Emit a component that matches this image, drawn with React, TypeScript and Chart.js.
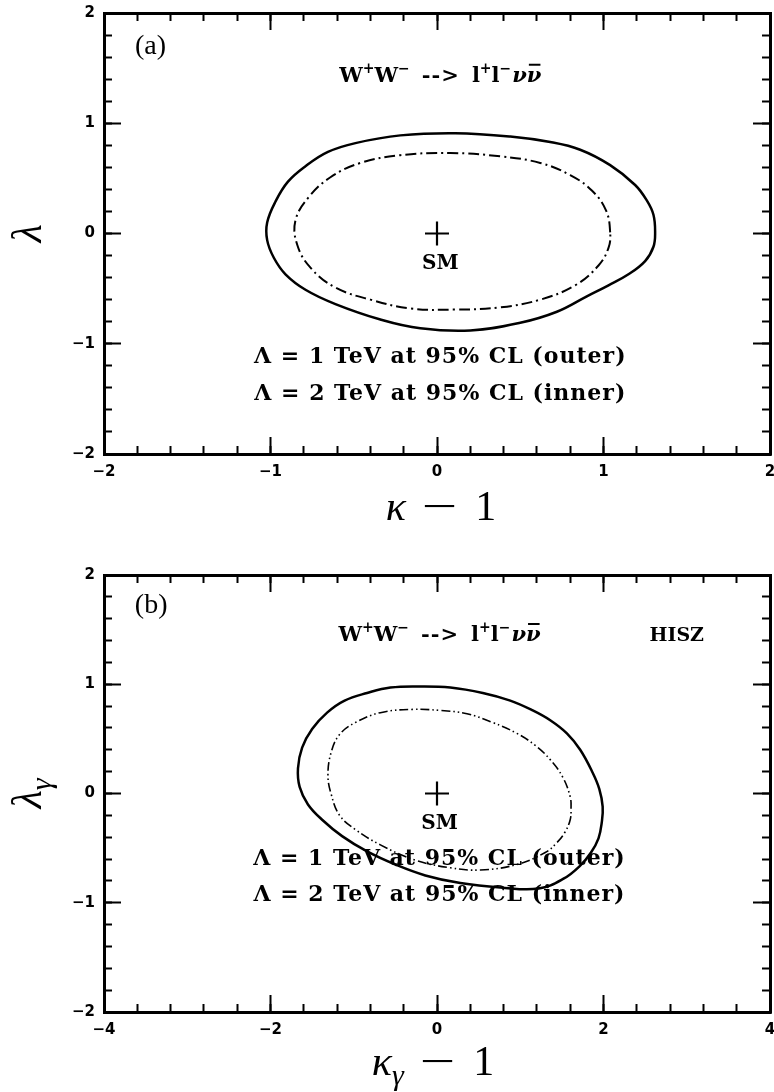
import React, { useEffect, useRef } from "react";
import { Chart, registerables } from "chart.js";

Chart.register(...registerables);

// ---------- panel (a): kappa - 1 vs lambda ----------
const outerAX = [1.31, 1.30, 1.26, 1.19, 1.04, 0.86, 0.68, 0.44, 0.11, -0.22, -0.49, -0.655, -0.79, -0.895, -0.97, -1.02, -1.02, -0.98, -0.91, -0.79, -0.61, -0.34, -0.10, 0.20, 0.50, 0.72, 0.90, 1.03, 1.15, 1.25, 1.30];
const outerAY = [0.01, 0.17, 0.30, 0.44, 0.62, 0.76, 0.83, 0.88, 0.91, 0.89, 0.82, 0.74, 0.61, 0.47, 0.29, 0.10, -0.06, -0.22, -0.37, -0.51, -0.64, -0.78, -0.86, -0.88, -0.81, -0.71, -0.57, -0.47, -0.37, -0.25, -0.12];
const innerAX = [1.04, 1.015, 0.93, 0.80, 0.62, 0.38, 0.08, -0.22, -0.46, -0.64, -0.77, -0.85, -0.84, -0.76, -0.61, -0.40, -0.16, 0.11, 0.38, 0.62, 0.83, 0.97, 1.03];
const innerAY = [0.01, 0.21, 0.39, 0.53, 0.64, 0.70, 0.73, 0.71, 0.64, 0.51, 0.33, 0.12, -0.10, -0.31, -0.49, -0.60, -0.68, -0.69, -0.67, -0.60, -0.47, -0.29, -0.13];

// ---------- panel (b): kappa_gamma - 1 vs lambda_gamma (HISZ) ----------
const outerBX = [1.99, 1.95, 1.87, 1.72, 1.56, 1.36, 1.15, 0.88, 0.55, 0.16, -0.20, -0.56, -0.84, -1.11, -1.32, -1.50, -1.62, -1.67, -1.65, -1.55, -1.38, -1.14, -0.84, -0.50, -0.14, 0.28, 0.76, 1.22, 1.52, 1.72, 1.85, 1.94, 1.98];
const outerBY = [-0.12, 0.04, 0.19, 0.40, 0.55, 0.67, 0.76, 0.85, 0.92, 0.97, 0.98, 0.97, 0.92, 0.85, 0.74, 0.59, 0.42, 0.23, 0.06, -0.10, -0.24, -0.39, -0.53, -0.65, -0.75, -0.82, -0.86, -0.87, -0.78, -0.66, -0.54, -0.41, -0.26];
const innerBX = [1.61, 1.60, 1.51, 1.36, 1.18, 0.96, 0.67, 0.36, 0.04, -0.29, -0.68, -0.98, -1.17, -1.27, -1.31, -1.27, -1.17, -0.98, -0.68, -0.26, 0.16, 0.52, 0.96, 1.30, 1.44, 1.54, 1.60];
const innerBY = [-0.14, -0.03, 0.15, 0.31, 0.44, 0.55, 0.65, 0.73, 0.76, 0.77, 0.74, 0.65, 0.54, 0.38, 0.17, -0.01, -0.20, -0.33, -0.47, -0.61, -0.68, -0.70, -0.65, -0.54, -0.45, -0.35, -0.24];

// Standard Model point
const smX = [0];
const smY = [0];

// tick labels
const xTicksA = [-2, -1, 0, 1, 2];
const xTicksB = [-4, -2, 0, 2, 4];
const yTicks = [-2, -1, 0, 1, 2];
const xMinorStepA = 0.2;
const xMinorStepB = 0.4;
const yMinorStep = 0.2;

// ---------- drawing helpers ----------
type Part = { t: string; font: string; dx?: number; dy?: number; sx?: number; over?: boolean; ls?: number };
type Ann = { x: number; y: number; parts: Part[]; align: "left" | "center"; base: number };

const B21 = "bold 21px 'DejaVu Serif'";
const B14 = "bold 14px 'DejaVu Serif'";
const BI21 = "bold italic 21px 'DejaVu Serif'";
const B20 = "bold 20px 'DejaVu Serif'";
const B19 = "bold 19px 'DejaVu Serif'";
const B22 = "bold 22px 'DejaVu Serif'";
const LAB = "28px 'Liberation Serif'";
const TI = "italic 42px 'Liberation Serif'";
const TR = "42px 'Liberation Serif'";
const TS = "italic 30px 'Liberation Serif'";

function setLS(ctx: CanvasRenderingContext2D, ls: number) {
  (ctx as any).letterSpacing = ls + "px";
}

function partWidth(ctx: CanvasRenderingContext2D, p: Part) {
  ctx.font = p.font;
  setLS(ctx, p.ls ?? 0);
  const w = ctx.measureText(p.t).width * (p.sx ?? 1) + (p.dx ?? 0);
  setLS(ctx, 0);
  return w;
}

function drawParts(ctx: CanvasRenderingContext2D, parts: Part[], x: number, baseline: number, align: "left" | "center") {
  const widths = parts.map((p) => partWidth(ctx, p));
  const total = widths.reduce((a, b) => a + b, 0);
  let cx = align === "center" ? x - total / 2 : x;
  ctx.textAlign = "left";
  ctx.textBaseline = "alphabetic";
  ctx.fillStyle = "#000";
  ctx.strokeStyle = "#000";
  parts.forEach((p, i) => {
    ctx.font = p.font;
    setLS(ctx, p.ls ?? 0);
    const w = ctx.measureText(p.t).width;
    ctx.save();
    ctx.translate(cx + (p.dx ?? 0), baseline + (p.dy ?? 0));
    ctx.scale(p.sx ?? 1, 1);
    ctx.fillText(p.t, 0, 0);
    if (p.over) {
      ctx.lineWidth = 2;
      ctx.beginPath();
      ctx.moveTo(2, -17);
      ctx.lineTo(w - 1, -17);
      ctx.stroke();
    }
    ctx.restore();
    setLS(ctx, 0);
    cx += widths[i];
  });
}

const reaction: Part[] = [
  { t: "W", font: B21 },
  { t: "+", font: B14, dy: -9 },
  { t: "W", font: B21 },
  { t: "\u2212", font: B14, dy: -9 },
  { t: "-->", font: B21, dx: 12, ls: 1 },
  { t: "l", font: B21, dx: 12 },
  { t: "+", font: B14, dy: -9 },
  { t: "l", font: B21 },
  { t: "\u2212", font: B14, dy: -9 },
  { t: "\u03bd", font: BI21, dx: 1 },
  { t: "\u03bd", font: BI21, over: true },
];

type Spec = {
  xMin: number;
  xMax: number;
  xMajor: number[];
  xMinorStep: number;
  outerX: number[];
  outerY: number[];
  innerX: number[];
  innerY: number[];
  innerDash: number[];
  innerWidth: number;
  padTop: number;
  bottomH: number;
  anns: Ann[];
  xTitle: Part[];
  xTitleBase: number;
  xTitleShift: number;
  yTitle: Part[];
};

const line1 = "\u039b = 1 TeV at 95% CL (outer)";
const line2 = "\u039b = 2 TeV at 95% CL (inner)";

const specA: Spec = {
  xMin: -2,
  xMax: 2,
  xMajor: xTicksA,
  xMinorStep: xMinorStepA,
  outerX: outerAX,
  outerY: outerAY,
  innerX: innerAX,
  innerY: innerAY,
  innerDash: [11, 4, 2, 4],
  innerWidth: 2,
  padTop: 13,
  bottomH: 92,
  anns: [
    { x: -1.814, y: 1.71, parts: [{ t: "(a)", font: LAB }], align: "left", base: 9 },
    { x: 0.02, y: 1.44, parts: reaction, align: "center", base: 7 },
    { x: 0.02, y: -0.26, parts: [{ t: "SM", font: B20 }], align: "center", base: 7 },
    { x: 0.02, y: -1.1, parts: [{ t: line1, font: B22, ls: 1 }], align: "center", base: 8 },
    { x: 0.02, y: -1.44, parts: [{ t: line2, font: B22, ls: 1 }], align: "center", base: 8 },
  ],
  xTitle: [
    { t: "\u03ba", font: TI },
    { t: "\u2212", font: TR, dx: 16, sx: 1.5 },
    { t: "1", font: TR, dx: 18 },
  ],
  xTitleBase: 66,
  xTitleShift: 4,
  yTitle: [{ t: "\u03bb", font: TI }],
};

const specB: Spec = {
  xMin: -4,
  xMax: 4,
  xMajor: xTicksB,
  xMinorStep: xMinorStepB,
  outerX: outerBX,
  outerY: outerBY,
  innerX: innerBX,
  innerY: innerBY,
  innerDash: [9, 3, 1.5, 3, 1.5, 3],
  innerWidth: 1.6,
  padTop: 29,
  bottomH: 80,
  anns: [
    { x: -3.63, y: 1.73, parts: [{ t: "(b)", font: LAB }], align: "left", base: 9 },
    { x: 0.03, y: 1.46, parts: reaction, align: "center", base: 7 },
    { x: 2.88, y: 1.46, parts: [{ t: "HISZ", font: B19 }], align: "center", base: 7 },
    { x: 0.03, y: -0.26, parts: [{ t: "SM", font: B20 }], align: "center", base: 7 },
    { x: 0.03, y: -0.58, parts: [{ t: line1, font: B22, ls: 1 }], align: "center", base: 8 },
    { x: 0.03, y: -0.91, parts: [{ t: line2, font: B22, ls: 1 }], align: "center", base: 8 },
  ],
  xTitle: [
    { t: "\u03ba", font: TI },
    { t: "\u03b3", font: TS, dy: 10 },
    { t: "\u2212", font: TR, dx: 16, sx: 1.5 },
    { t: "1", font: TR, dx: 18 },
  ],
  xTitleBase: 63,
  xTitleShift: -4,
  yTitle: [
    { t: "\u03bb", font: TI },
    { t: "\u03b3", font: TS, dy: 10 },
  ],
};

const tickFont = { family: "'DejaVu Sans'", size: 15, weight: "bold" as const };
function fmt(v: number) {
  return v < 0 ? "\u2212" + Math.abs(v) : String(v);
}

function axis(
  position: "bottom" | "top" | "left" | "right",
  min: number,
  max: number,
  o: { major?: number[]; step?: number; labels: boolean; len: number; size: number; border: boolean; weight: number }
) {
  const horiz = position === "top" || position === "bottom";
  return {
    type: "linear",
    position,
    min,
    max,
    weight: o.weight,
    afterBuildTicks: (s: any) => {
      if (o.major) s.ticks = o.major.map((v) => ({ value: v }));
    },
    ticks: {
      display: o.labels,
      stepSize: o.step,
      autoSkip: false,
      maxRotation: 0,
      minRotation: 0,
      padding: 26,
      color: "#000",
      font: tickFont,
      callback: (v: any) => fmt(Number(v)),
    },
    grid: {
      display: true,
      drawOnChartArea: false,
      drawTicks: true,
      tickLength: -o.len,
      tickWidth: 2,
      tickColor: "#000",
    },
    border: { display: o.border, color: "#000", width: 3 },
    afterFit: (s: any) => {
      if (horiz) s.height = o.size;
      else s.width = o.size;
      s.paddingLeft = 0;
      s.paddingRight = 0;
      s.paddingTop = 0;
      s.paddingBottom = 0;
    },
  };
}

const closeLoops = {
  id: "closeLoops",
  afterDatasetsUpdate(chart: any) {
    chart.data.datasets.forEach((ds: any, i: number) => {
      if (!ds.closed) return;
      const line = chart.getDatasetMeta(i).dataset;
      if (!line) return;
      line._loop = true;
      line._fullLoop = true;
      line._pointsUpdated = false;
      delete line._segments;
      delete line._path;
      if (line.updateControlPoints) line.updateControlPoints(chart.chartArea, "x");
    });
  },
};

function makeChart(canvas: HTMLCanvasElement, spec: Spec) {
  const textPlugin = {
    id: "panelText",
    afterDraw(chart: any) {
      const ctx: CanvasRenderingContext2D = chart.ctx;
      const xs = chart.scales.x;
      const ys = chart.scales.y;
      const area = chart.chartArea;
      ctx.save();
      spec.anns.forEach((a) => {
        drawParts(ctx, a.parts, xs.getPixelForValue(a.x), ys.getPixelForValue(a.y) + a.base, a.align);
      });
      drawParts(ctx, spec.xTitle, (area.left + area.right) / 2 + spec.xTitleShift, area.bottom + spec.xTitleBase, "center");
      ctx.save();
      ctx.translate(area.left - 63, (area.top + area.bottom) / 2);
      ctx.rotate(-Math.PI / 2);
      drawParts(ctx, spec.yTitle, 0, 0, "center");
      ctx.restore();
      ctx.restore();
    },
  };

  const pts = (xs: number[], ys: number[]) => xs.map((x, i) => ({ x, y: ys[i] }));

  return new Chart(canvas, {
    type: "line",
    data: {
      datasets: [
        {
          label: "outer",
          data: pts(spec.outerX, spec.outerY),
          borderColor: "#000",
          borderWidth: 2.5,
          pointRadius: 0,
          tension: 0.4,
          fill: false,
          closed: true,
        } as any,
        {
          label: "inner",
          data: pts(spec.innerX, spec.innerY),
          borderColor: "#000",
          borderWidth: spec.innerWidth,
          borderDash: spec.innerDash,
          pointRadius: 0,
          tension: 0.4,
          fill: false,
          closed: true,
        } as any,
        {
          label: "SM",
          data: pts(smX, smY),
          showLine: false,
          pointStyle: "cross",
          pointRadius: 12,
          pointHoverRadius: 12,
          pointBorderWidth: 2.2,
          pointBorderColor: "#000",
          borderColor: "#000",
        } as any,
      ],
    },
    options: {
      responsive: false,
      maintainAspectRatio: false,
      devicePixelRatio: 1,
      animation: false,
      events: [],
      layout: { autoPadding: false, padding: { top: spec.padTop, right: 4, left: 0, bottom: 0 } },
      plugins: { legend: { display: false }, tooltip: { enabled: false }, title: { display: false } },
      scales: {
        x: axis("bottom", spec.xMin, spec.xMax, { major: spec.xMajor, labels: true, len: 17, size: spec.bottomH, border: true, weight: 1 }),
        xMinor: axis("bottom", spec.xMin, spec.xMax, { step: spec.xMinorStep, labels: false, len: 8, size: 0, border: false, weight: 0 }),
        xTop: axis("top", spec.xMin, spec.xMax, { major: spec.xMajor, labels: false, len: 17, size: 0, border: true, weight: 1 }),
        xTopMinor: axis("top", spec.xMin, spec.xMax, { step: spec.xMinorStep, labels: false, len: 8, size: 0, border: false, weight: 0 }),
        y: axis("left", -2, 2, { major: yTicks, labels: true, len: 17, size: 104, border: true, weight: 1 }),
        yMinor: axis("left", -2, 2, { step: yMinorStep, labels: false, len: 8, size: 0, border: false, weight: 0 }),
        yRight: axis("right", -2, 2, { major: yTicks, labels: false, len: 17, size: 0, border: true, weight: 1 }),
        yRightMinor: axis("right", -2, 2, { step: yMinorStep, labels: false, len: 8, size: 0, border: false, weight: 0 }),
      } as any,
    },
    plugins: [closeLoops as any, textPlugin as any],
  } as any);
}

function Panel({ spec, top }: { spec: Spec; top: number }) {
  const ref = useRef<HTMLCanvasElement | null>(null);
  useEffect(() => {
    if (!ref.current) return;
    const chart = makeChart(ref.current, spec);
    return () => chart.destroy();
  }, [spec]);
  return (
    <div style={{ position: "absolute", left: 0, top, width: 774, height: 546 }}>
      <canvas ref={ref} width={774} height={546} style={{ display: "block", width: 774, height: 546 }} />
    </div>
  );
}

export default function App() {
  return (
    <div style={{ position: "absolute", left: 0, top: 0, width: 774, height: 1092, background: "#fff", overflow: "hidden" }}>
      <Panel spec={specA} top={0} />
      <Panel spec={specB} top={546} />
    </div>
  );
}
